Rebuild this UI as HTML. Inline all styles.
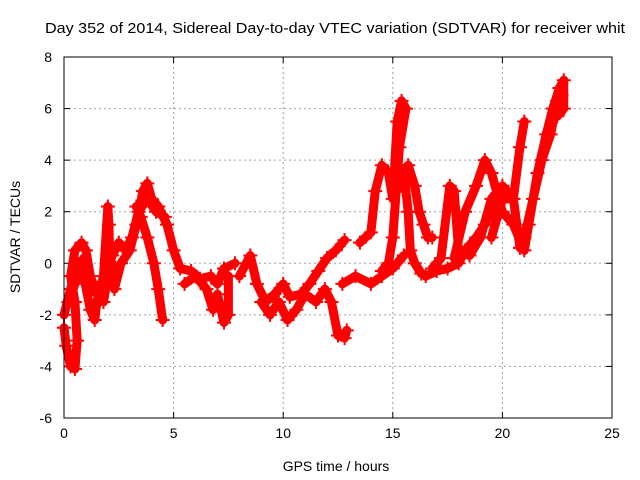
<!DOCTYPE html>
<html><head><meta charset="utf-8"><style>
body{margin:0;background:#fff}
svg{display:block;font-family:"Liberation Sans",sans-serif}
</style></head><body>
<svg id="chart" width="640" height="480">
<text x="45" y="33" font-size="15" textLength="580" lengthAdjust="spacingAndGlyphs">Day 352 of 2014, Sidereal Day-to-day VTEC variation (SDTVAR) for receiver whit</text>
<text x="336" y="471" font-size="14" text-anchor="middle">GPS time / hours</text>
<text transform="translate(20,237) rotate(-90)" font-size="14" text-anchor="middle">SDTVAR / TECUs</text>
<g id="grid"></g><g id="ticks"></g><g id="marks"></g>
<rect x="64" y="57" width="548" height="361" fill="none" stroke="#000" stroke-width="1"/>
</svg>
<script>
const xTicks=[0,5,10,15,20,25];
const yTicks=[-6,-4,-2,0,2,4,6,8];
const tA_x=[0,0.1,0.3,0.5,0.6,0.5,0.3,0.5,0.8,1.0,1.2,1.5,1.8,2.0,2.2];
const tA_y=[-2.5,-3.2,-4,-4.1,-3,-1.5,-0.5,0.5,0.8,0.5,-0.5,-1.2,-1.5,-0.5,0];
const tB_x=[0,0.3,0.6,0.9,1.2,1.4,1.5,1.8,2.0,2.05,2.1,2.3,2.6,3.0,3.3,3.6,3.8,4.0,4.3,4.7,5.0,5.3,5.8,6.2,6.7,7.0,7.3,7.8];
const tB_y=[-2,-1,0,-0.5,-1.8,-2.2,-1.5,-0.5,2.2,1.5,-0.5,-1,0,0.5,1.5,2.8,3.1,2.5,2.2,1.5,0.5,-0.2,-0.3,-0.6,-0.5,-0.8,-0.2,0];
const tC_x=[3.3,3.5,3.8,4.1,4.3,4.5];
const tC_y=[2.2,1.8,1.0,0,-1,-2.2];
const tD_x=[0.2,0.5,0.9,1.3,1.7,2.2,2.5,2.8,3.1,3.4,3.8,4.2,4.6];
const tD_y=[-1.5,-0.8,0.2,-1.0,-0.8,0.3,0.8,0.5,1.0,2.0,2.5,2.0,1.8];
const tE_x=[5.5,6.0,6.5,6.8,7.0,7.3,7.5,7.5];
const tE_y=[-0.8,-0.5,-1.0,-1.8,-1.2,-2.3,-2.0,-0.5];
const tF_x=[8.0,8.5,8.8,9.2,9.6,10,10.3,10.8,11.2,11.6,12.0,12.4,12.8];
const tF_y=[-0.5,0.3,-0.8,-1.5,-1.2,-0.8,-1.3,-1.2,-0.8,-0.3,0.2,0.5,0.9];
const tG_x=[9,9.4,9.8,10.2,10.6,11,11.5,11.9,12.2,12.5,12.8,12.9];
const tG_y=[-1.5,-2,-1.5,-2.2,-1.8,-1.2,-1.5,-1,-1.5,-2.8,-2.9,-2.6];
const tH_x=[12.7,13.3,14,14.5,15,15.5];
const tH_y=[-0.8,-0.5,-0.8,-0.5,-0.2,0.3];
const tI_x=[13.5,14,14.2,14.5,14.8,15,15.2,15.4,15.6,15.3,15.0,14.8,14.5];
const tI_y=[0.8,1.2,2.8,3.8,3.5,2.5,5.5,6.3,6.0,4.5,1.0,0,-0.3];
const tJ_x=[15.4,15.7,16.0,16.2,16.4,16.6,16.8];
const tJ_y=[3,3.8,3.0,2.0,1.5,1.0,1.0];
const tK_x=[15.5,15.7,15.8,16.0,16.3];
const tK_y=[3.6,2,0.5,0.0,-0.4];
const tL_x=[16.5,17,17.5,18,18.3,18.8,19.2,19.6];
const tL_y=[-0.5,-0.3,-0.2,0.0,0.5,1.0,1.5,2.2];
const tM_x=[16.8,17.2,17.6,17.8,18.0,18.5,19.0,19.5,20,20.5,20.8,21.0];
const tM_y=[-0.2,0.2,3.0,2.8,0.5,0.3,1.0,2.5,3.0,2.5,4.5,5.5];
const tN_x=[17.8,18.3,18.8,19.2,19.5,20.0,20.5,21.0,21.2,21.6,22.0,22.3,22.6,22.8,22.8,22.5];
const tN_y=[0.2,2.0,3.0,4.0,3.5,2.0,1.5,0.5,1.5,3.5,5.0,6.0,6.8,7.1,6.0,5.7];
const tO_x=[19.5,20,20.5,20.8,21,21.4,21.8,22.2,22.5,22.7];
const tO_y=[1.0,2.5,2.5,0.6,1.0,2.5,4,5,6.3,6.5];
const seriesX=[tA_x,tB_x,tC_x,tD_x,tE_x,tF_x,tG_x,tH_x,tI_x,tJ_x,tK_x,tL_x,tM_x,tN_x,tO_x];
const seriesY=[tA_y,tB_y,tC_y,tD_y,tE_y,tF_y,tG_y,tH_y,tI_y,tJ_y,tK_y,tL_y,tM_y,tN_y,tO_y];

const NS="http://www.w3.org/2000/svg";
const X0=64,X1=612,Y0=418,Y1=57;
function sx(v){return X0+(v-0)/(25-0)*(X1-X0);}
function sy(v){return Y0-(v+6)/(8+6)*(Y0-Y1);}
function mk(tag,attrs,parent){const e=document.createElementNS(NS,tag);for(const k in attrs)e.setAttribute(k,attrs[k]);parent.appendChild(e);return e;}
const grid=document.getElementById('grid'),ticks=document.getElementById('ticks'),marks=document.getElementById('marks');
xTicks.forEach(t=>{
  const x=sx(t);
  if(t>0&&t<25){const g=mk('line',{x1:x,x2:x,y1:Y1,y2:Y0,stroke:'#a0a0a0','stroke-dasharray':'2,3'},grid);
  
  }
  mk('line',{x1:x,x2:x,y1:Y0,y2:Y0-6,stroke:'#000'},ticks);
  mk('line',{x1:x,x2:x,y1:Y1,y2:Y1+6,stroke:'#000'},ticks);
  const l=mk('text',{x:x,y:Y0+20,'font-size':14,'text-anchor':'middle'},ticks);
  l.textContent=t;
  
  
});
yTicks.forEach(t=>{
  const y=sy(t);
  if(t>-6&&t<8){const g=mk('line',{x1:X0,x2:X1,y1:y,y2:y,stroke:'#a0a0a0','stroke-dasharray':'2,3'},grid);
  
  }
  mk('line',{x1:X0,x2:X0+6,y1:y,y2:y,stroke:'#000'},ticks);
  mk('line',{x1:X1,x2:X1-6,y1:y,y2:y,stroke:'#000'},ticks);
  const l=mk('text',{x:X0-12,y:y+5,'font-size':14,'text-anchor':'end'},ticks);
  l.textContent=t;
  
  
});
seriesX.forEach((xs,i)=>{
  const ys=seriesY[i];
  const pts=xs.map((v,j)=>sx(v)+','+sy(ys[j])).join(' ');
  const pl=mk('polyline',{points:pts,fill:'none',stroke:'#ff0000','stroke-width':9,'stroke-linejoin':'round','stroke-linecap':'round'},marks);
  
  
  xs.forEach((v,j)=>{
    const x=sx(v),y=sy(ys[j]);
    const p=mk('path',{d:`M${x-7},${y}H${x+7}M${x},${y-7}V${y+7}`,stroke:'#ff0000','stroke-width':2},marks);
    
    
  });
});
</script>
</body></html>
